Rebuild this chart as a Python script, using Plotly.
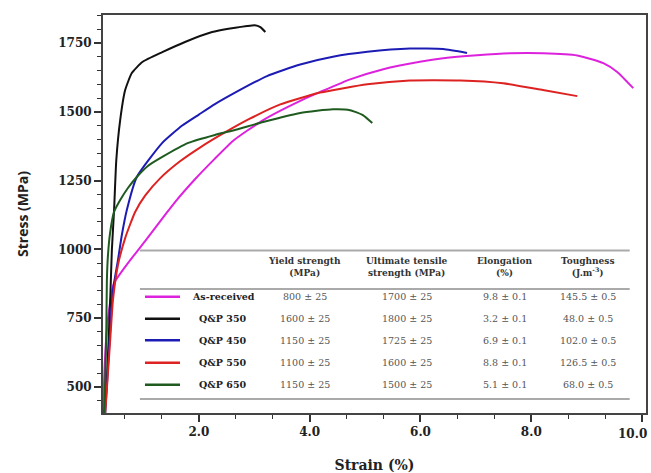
import plotly.graph_objects as go

# ---------------- data (strain %, stress MPa) ----------------
asr_strain = [0.28, 0.29, 0.34, 0.42, 0.47, 0.54, 0.72, 1.03, 1.39, 1.57, 1.93, 2.29, 2.62, 3.16, 3.83,
              4.19, 4.73, 5.33, 5.99, 6.41, 7.02, 7.62, 8.21, 8.83, 9.30, 9.55, 9.84]
asr_stress = [405, 525, 707, 834, 878, 900, 950, 1030, 1125, 1172, 1255, 1330, 1395, 1470, 1540,
              1572, 1618, 1655, 1682, 1695, 1706, 1713, 1713, 1705, 1677, 1645, 1586]

qp350_strain = [0.30, 0.34, 0.40, 0.43, 0.47, 0.51, 0.58, 0.67, 0.79, 0.98, 1.34, 1.75, 2.24, 2.87,
                3.01, 3.11, 3.20]
qp350_stress = [405, 525, 816, 998, 1143, 1325, 1470, 1579, 1641, 1681, 1717, 1754, 1790, 1812,
                1815, 1808, 1790]

qp450_strain = [0.31, 0.40, 0.45, 0.54, 0.61, 0.70, 0.88, 1.34, 1.70, 2.00, 2.29, 2.62, 3.23, 3.83,
                4.42, 5.04, 5.81, 6.41, 6.84]
qp450_stress = [405, 707, 852, 961, 1052, 1143, 1263, 1387, 1450, 1490, 1528, 1566, 1630, 1672,
                1700, 1718, 1730, 1728, 1714]

qp550_strain = [0.31, 0.40, 0.45, 0.54, 0.67, 0.85, 1.03, 1.30, 1.66, 2.02, 2.47, 2.92, 3.47, 4.19,
                5.04, 5.81, 6.72, 7.49, 8.21, 8.83]
qp550_stress = [405, 671, 816, 943, 1041, 1136, 1195, 1258, 1320, 1370, 1425, 1475, 1527, 1570,
                1600, 1614, 1614, 1604, 1579, 1557]

qp650_strain = [0.29, 0.31, 0.33, 0.34, 0.36, 0.40, 0.47, 0.58, 0.72, 0.88, 1.08, 1.34, 1.81, 2.29,
                2.62, 3.16, 3.83, 4.42, 4.73, 4.96, 5.13]
qp650_stress = [405, 525, 707, 889, 980, 1063, 1136, 1179, 1223, 1263, 1303, 1336, 1387, 1416,
                1432, 1463, 1496, 1509, 1506, 1488, 1459]

series_names = ["As-received", "Q&P 350", "Q&P 450", "Q&P 550", "Q&P 650"]
series_colors = ["#dd22dd", "#111111", "#1c1cb4", "#dd2222", "#1f5a1f"]

table_headers = ["Yield strength<br>(MPa)", "Ultimate tensile<br>strength (MPa)",
                 "Elongation<br>(%)", "Toughness<br>(J.m<sup>-3</sup>)"]
yield_strength = ["800 ± 25", "1600 ± 25", "1150 ± 25", "1100 ± 25", "1150 ± 25"]
uts = ["1700 ± 25", "1800 ± 25", "1725 ± 25", "1600 ± 25", "1500 ± 25"]
elongation = ["9.8 ± 0.1", "3.2 ± 0.1", "6.9 ± 0.1", "8.8 ± 0.1", "5.1 ± 0.1"]
toughness = ["145.5 ± 0.5", "48.0 ± 0.5", "102.0 ± 0.5", "126.5 ± 0.5", "68.0 ± 0.5"]

x_ticks = [2.0, 4.0, 6.0, 8.0, 10.0]
x_tick_labels = ["2.0", "4.0", "6.0", "8.0", "10.0"]
y_ticks = [500, 750, 1000, 1250, 1500, 1750]

# ---------------- figure ----------------
curves = [(asr_strain, asr_stress), (qp350_strain, qp350_stress), (qp450_strain, qp450_stress),
          (qp550_strain, qp550_stress), (qp650_strain, qp650_stress)]

fig = go.Figure()
for (xs, ys), name, col in zip(curves, series_names, series_colors):
    fig.add_trace(go.Scatter(x=xs, y=ys, mode="lines", name=name,
                             line=dict(color=col, width=2, shape="spline", smoothing=0.5),
                             showlegend=False))

serif = "DejaVu Serif"
tick_font = dict(family=serif, size=12, color="#222", weight="bold")
fig.update_layout(
    width=651, height=473,
    margin=dict(l=103, r=5, t=15, b=60, autoexpand=False),
    paper_bgcolor="white", plot_bgcolor="white",
    font=dict(family=serif, color="#222"),
)
# last x label would run off the page edge: draw it as a right-aligned annotation instead
shown_labels = x_tick_labels[:-1] + [""]
fig.update_xaxes(
    range=[0.27, 10.07], tickvals=x_ticks, ticktext=shown_labels,
    automargin=False,
    ticks="outside", ticklen=7, tickwidth=1.5, tickcolor="#333",
    minor=dict(dtick=2/3, tick0=0, ticks="outside", ticklen=4, tickcolor="#333", tickwidth=1.2),
    showgrid=False, zeroline=False,
    showline=True, linecolor="#444", linewidth=2, mirror=True,
    tickfont=tick_font,
    title=dict(text="Strain (%)", standoff=22,
               font=dict(family=serif, size=14, color="#222", weight="bold")),
)
fig.add_annotation(x=1.0055, y=-0.053, xref="paper", yref="paper", text=x_tick_labels[-1],
                   showarrow=False, font=tick_font, xanchor="right", yanchor="middle")

fig.update_yaxes(
    range=[405, 1852], tickvals=y_ticks, automargin=False,
    ticks="outside", ticklen=7, tickwidth=1.5, tickcolor="#333",
    minor=dict(dtick=50, tick0=0, ticks="outside", ticklen=4, tickcolor="#333", tickwidth=1.2),
    showgrid=False, zeroline=False,
    showline=True, linecolor="#444", linewidth=2, mirror=True,
    tickfont=tick_font,
    title=dict(text="Stress (MPa)", standoff=26,
               font=dict(family="Open Sans", size=14, color="#222", weight="bold")),
)

# ---------------- inset table ----------------
tx0, tx1 = 0.068, 0.970
for yy in [0.408, 0.3116, 0.0352]:
    fig.add_shape(type="line", xref="paper", yref="paper", x0=tx0, x1=tx1, y0=yy, y1=yy,
                  line=dict(color="#aaaaaa", width=2))

col_x = [0.372, 0.560, 0.740, 0.893]
name_x = 0.221
row_y = [0.292, 0.237, 0.183, 0.126, 0.071]

for cx, h in zip(col_x, table_headers):
    fig.add_annotation(x=cx, y=0.368, xref="paper", yref="paper", text=h, showarrow=False,
                       font=dict(family=serif, size=9, color="#333", weight="bold"),
                       align="center", xanchor="center", yanchor="middle")

for i, (nm, col) in enumerate(zip(series_names, series_colors)):
    ry = row_y[i]
    fig.add_shape(type="line", xref="paper", yref="paper", x0=0.0773, x1=0.1418, y0=ry, y1=ry,
                  line=dict(color=col, width=2.5))
    fig.add_annotation(x=name_x, y=ry, xref="paper", yref="paper", text=nm, showarrow=False,
                       font=dict(family=serif, size=9.5, color="#222", weight="bold"),
                       xanchor="center", yanchor="middle")
    for cx, vals in zip(col_x, [yield_strength, uts, elongation, toughness]):
        fig.add_annotation(x=cx, y=ry, xref="paper", yref="paper", text=vals[i], showarrow=False,
                           font=dict(family=serif, size=9.5, color="#555"),
                           xanchor="center", yanchor="middle")

fig.write_html("out.html")
